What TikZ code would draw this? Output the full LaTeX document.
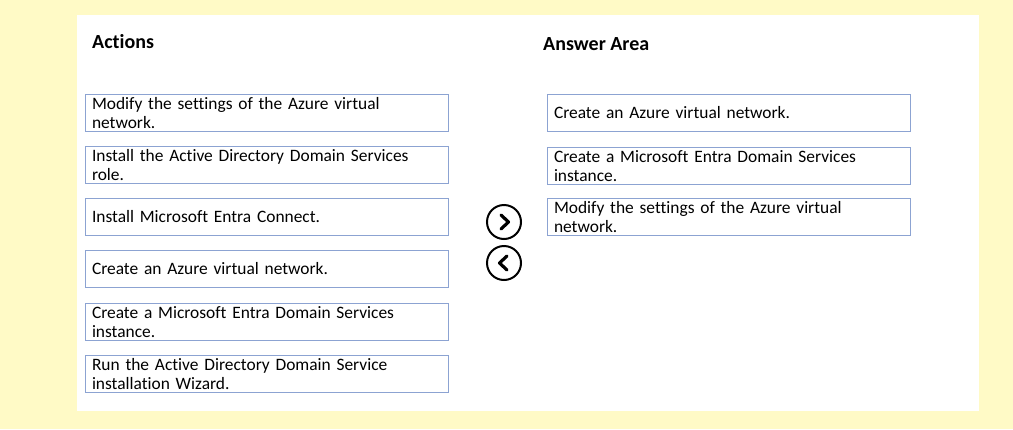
\documentclass[tikz,border=0pt]{standalone}
\usepackage{fontspec}
\setmainfont{Carlito}[Ligatures=NoCommon]
\definecolor{bgyellow}{RGB}{255,250,198}
\definecolor{boxline}{RGB}{140,163,210}
\begin{document}
\begin{tikzpicture}[x=1pt,y=-1pt,
  item/.style={draw=boxline,line width=1pt,rectangle,anchor=north west,
    minimum width=363pt,minimum height=37pt,text width=350pt,align=left,
    inner xsep=6pt,inner ysep=0pt,font=\fontsize{17.4}{19.5}\selectfont},
  head/.style={anchor=west,font=\fontsize{20}{22}\selectfont\bfseries,inner sep=0pt},
  btn/.style={draw=black,circle,line width=2pt,minimum size=34pt,inner sep=0pt},
  chev/.style={line width=3.2pt,line cap=round,line join=round}]
\fill[bgyellow] (0,0) rectangle (1013,429);
\fill[white] (77,15) rectangle (979,411);
\node[head] (hact) at (92,42) {Actions};
\node[head] (hans) at (543,44) {Answer Area};
\node[item] (a1) at (85,94) {Modify the settings of the Azure virtual\\ network.};
\node[item] (a2) at (85,146) {Install the Active Directory Domain Services\\ role.};
\node[item] (a3) at (85,198) {Install Microsoft Entra Connect.};
\node[item] (a4) at (85,250) {Create an Azure virtual network.};
\node[item] (a5) at (85,303) {Create a Microsoft Entra Domain Services\\ instance.};
\node[item] (a6) at (85,355) {Run the Active Directory Domain Service\\ installation Wizard.};
\node[item] (b1) at (547,94) {Create an Azure virtual network.};
\node[item] (b2) at (547,147) {Create a Microsoft Entra Domain Services\\ instance.};
\node[item] (b3) at (547,198) {Modify the settings of the Azure virtual\\ network.};
\node[btn] (right) at (504,222) {};
\node[btn] (left) at (504,263) {};
\draw[chev] ([xshift=-3pt,yshift=-7pt]right.center) -- ([xshift=4.5pt]right.center) -- ([xshift=-3pt,yshift=7pt]right.center);
\draw[chev] ([xshift=3pt,yshift=-7pt]left.center) -- ([xshift=-4.5pt]left.center) -- ([xshift=3pt,yshift=7pt]left.center);
\end{tikzpicture}
\end{document}
